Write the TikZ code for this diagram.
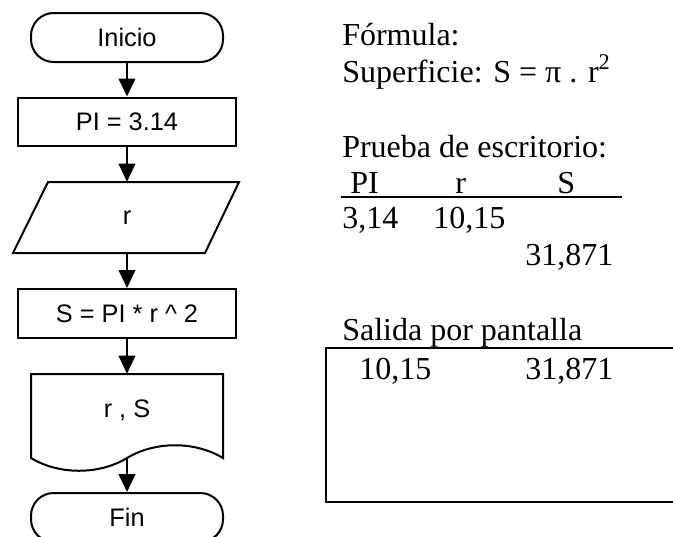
\documentclass[tikz,border=0pt]{standalone}
\usepackage{fontspec}
\setmainfont{Liberation Serif}
\newfontfamily\arialf{Liberation Sans}
\usetikzlibrary{arrows.meta}
\begin{document}
\begin{tikzpicture}[x=0.75pt,y=-0.75pt,
  ln/.style={line width=1.5pt},
  sansf/.style={font=\arialf\fontsize{19}{21}\selectfont},
  fbox/.style={draw, ln, sansf, inner sep=0pt},
  term/.style={fbox, rounded corners=17pt, minimum width=144pt, minimum height=36.75pt},
  proc/.style={fbox, minimum width=163pt, minimum height=36pt},
  ghost/.style={sansf, inner sep=0pt},
  flow/.style={ln, -{Triangle[width=12.5pt,length=13.5pt]}},
  txt/.style={anchor=base west, inner sep=0pt, font=\fontsize{24}{28}\selectfont}]
\useasboundingbox (0,0) rectangle (673,536);
\clip (0,0) rectangle (673,536);

% flowchart
\node[term] (inicio) at (127,37.5) {Inicio};
\node[proc] (pi) at (127,121.5) {PI = 3.14};
\node[ghost, minimum height=53.25pt, minimum width=100pt] (rin) at (127,217.5) {r};
\draw[ln, line join=miter] (48,182) -- (239,182) -- (205,253) -- (13,253) -- cycle;
\node[proc, minimum height=36.75pt] (calc) at (127,313.5) {S = PI * r \^{} 2};
\node[ghost, minimum height=63pt, minimum width=144pt] (doc) at (127,416) {};
\node[ghost] (docl) at (127,410) {r , S};
\draw[ln, line join=miter] (223,458) .. controls (195,441) and (155,441) .. (127,458)
  .. controls (99,475) and (59,475) .. (31,458) -- (31,374) -- (223,374) -- cycle;
\node[term] (fin) at (127,517.5) {Fin};

\draw[flow] (inicio.south) -- (pi.north);
\draw[flow] (pi.south) -- (rin.north);
\draw[flow] (rin.south) -- (calc.north);
\draw[flow] (calc.south) -- (doc.north);
\draw[flow] (doc.south) -- (fin.north);

% right side text
\node[txt] (t1) at (342,45) {Fórmula:};
\node[txt] (t2) at (342,82) {Superficie: S = π . r\textsuperscript{2}};
\node[txt] (t3) at (342,157) {Prueba de escritorio:};
\node[txt] (h1) at (350,193) {PI};
\node[txt] (h2) at (455,193) {r};
\node[txt] (h3) at (557,193) {S};
\draw[line width=1pt] (341,197) -- (622,197);
\node[txt] (v1) at (342,228) {3,14};
\node[txt] (v2) at (433,228) {10,15};
\node[txt] (v3) at (525,265) {31,871};
\node[txt] (t4) at (342,340) {Salida por pantalla};
\draw[ln, line join=miter] (690,348) -- (326,348) -- (326,502) -- (690,502);
\node[txt] (o1) at (359,379) {10,15};
\node[txt] (o2) at (525,379) {31,871};
\end{tikzpicture}
\end{document}
